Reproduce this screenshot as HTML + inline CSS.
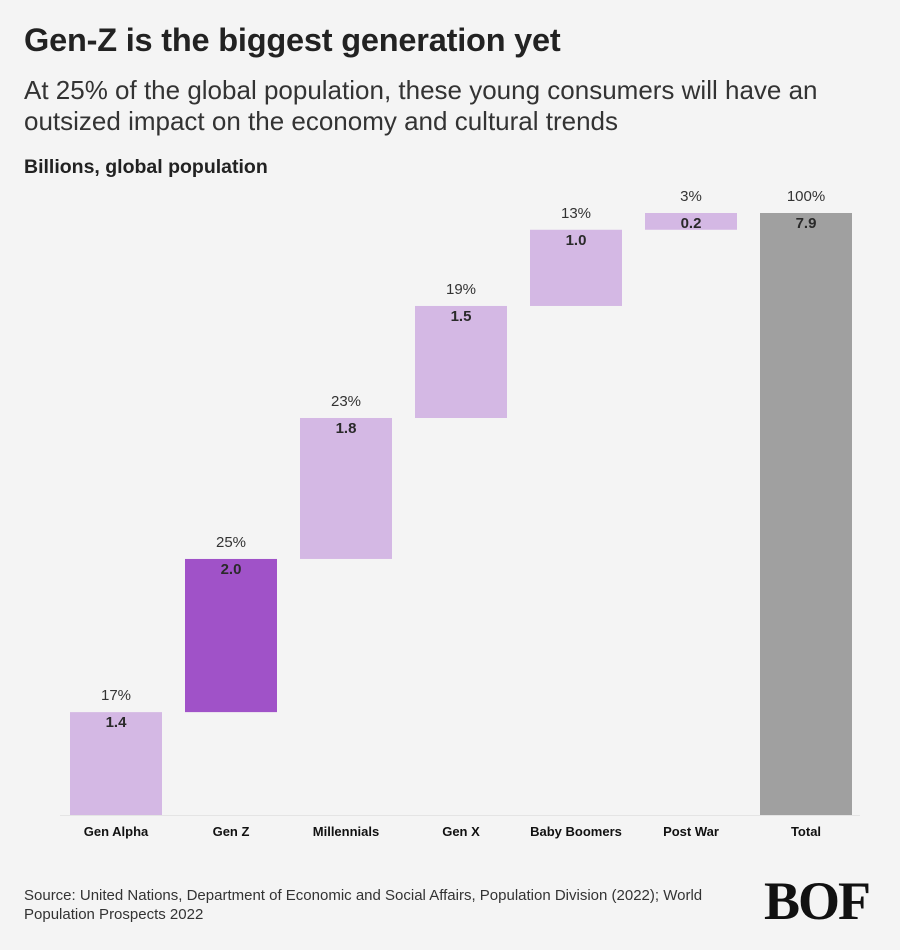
<!DOCTYPE html>
<html><head><meta charset="utf-8"><style>
body{margin:0;width:900px;height:950px;background:#f4f4f4;font-family:"Liberation Sans",sans-serif;color:#222;overflow:hidden;position:relative}
.t{position:absolute;left:24px;top:22px;font-size:32.5px;font-weight:bold;color:#222;letter-spacing:-0.2px}
.s{position:absolute;left:24px;top:75px;font-size:26px;line-height:31px;color:#333;width:820px}
.u{position:absolute;left:24px;top:156px;font-size:19.5px;font-weight:bold}
.src{position:absolute;left:24px;top:886px;font-size:15px;line-height:19px;color:#333;width:720px}
.logo{position:absolute;left:764px;top:870px;font-family:"Liberation Serif",serif;font-size:54px;font-weight:bold;color:#111;letter-spacing:-2px}
</style></head><body>
<div class="t">Gen-Z is the biggest generation yet</div>
<div class="s">At 25% of the global population, these young consumers will have an outsized impact on the economy and cultural trends</div>
<div class="u">Billions, global population</div>
<svg id="c" width="900" height="950" style="position:absolute;left:0;top:0"></svg>
<div class="src">Source: United Nations, Department of Economic and Social Affairs, Population Division (2022); World Population Prospects 2022</div>
<div class="logo">BOF</div>
<script>
const categories=["Gen Alpha","Gen Z","Millennials","Gen X","Baby Boomers","Post War","Total"];
const values=[1.35,2.01,1.85,1.47,1.0,0.22,7.9];
const valueLabels=["1.4","2.0","1.8","1.5","1.0","0.2","7.9"];
const pctLabels=["17%","25%","23%","19%","13%","3%","100%"];
const ns="http://www.w3.org/2000/svg";
const svg=document.getElementById('c');
const base=815,maxV=7.9,plotH=602;
const y=v=>base-v/maxV*plotH;
const x=i=>70+i*115;
const bw=92;
function el(t,a){const e=document.createElementNS(ns,t);for(const k in a)e.setAttribute(k,a[k]);svg.appendChild(e);return e;}
const ax=el('line',{x1:60,x2:860,y1:base+0.5,y2:base+0.5,stroke:'#e4e4e4'});


let cum=0;
categories.forEach((c,i)=>{
  const total=i===categories.length-1;
  const lo=total?0:cum, hi=total?values[i]:cum+values[i];
  if(!total)cum+=values[i];
  const col=total?'#a0a0a0':(i===1?'#a052c8':'#d4b8e4');
  const r=el('rect',{x:x(i),y:y(hi),width:bw,height:y(lo)-y(hi),fill:col});
  
  
  const v=el('text',{x:x(i)+bw/2,y:y(hi)+15,'text-anchor':'middle','font-size':15,'font-weight':'bold',fill:'#2a2a2a'});
  v.textContent=valueLabels[i];
  
  
  const p=el('text',{x:x(i)+bw/2,y:y(hi)-12,'text-anchor':'middle','font-size':15,fill:'#333'});
  p.textContent=pctLabels[i];
  
  
  const l=el('text',{x:x(i)+bw/2,y:836,'text-anchor':'middle','font-size':13,'font-weight':'bold',fill:'#111'});
  l.textContent=c;
  
  
});
</script>
</body></html>
